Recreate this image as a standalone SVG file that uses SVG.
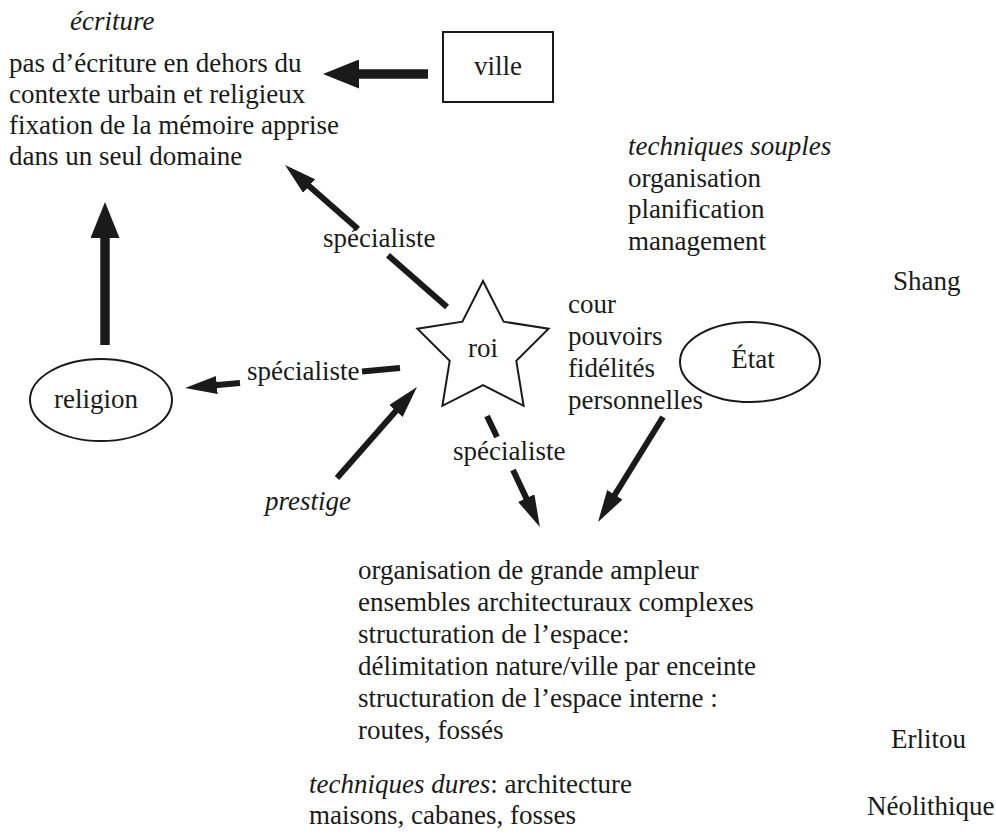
<svg xmlns="http://www.w3.org/2000/svg" width="996" height="838" viewBox="0 0 996 838">
<style>
text{font-family:"Liberation Serif","Times New Roman",serif;font-size:27px;fill:#1a1a1a}
.i{font-style:italic}
.c{text-anchor:middle}
.shape{fill:none;stroke:#1a1a1a;stroke-width:2}
.thick{stroke:#1a1a1a;stroke-width:9.5;fill:none}
.thin{stroke:#1a1a1a;stroke-width:6;fill:none}
</style>
<defs>
<marker id="hL" markerUnits="userSpaceOnUse" markerWidth="36" markerHeight="29" viewBox="0 0 36 29" refX="2" refY="14.5" orient="auto"><path d="M0,0 L36,14.5 L0,29 z" fill="#1a1a1a"/></marker>
<marker id="hS" markerUnits="userSpaceOnUse" markerWidth="32" markerHeight="18" viewBox="0 0 32 18" refX="2" refY="9" orient="auto"><path d="M0,0 L32,9 L0,18 z" fill="#1a1a1a"/></marker>
</defs>
<g id="ecriture">
<text class="i" x="70" y="30">écriture</text>
<text x="9" y="72">pas d’écriture en dehors du</text>
<text x="9" y="103">contexte urbain et religieux</text>
<text x="9" y="134">fixation de la mémoire apprise</text>
<text x="9" y="165">dans un seul domaine</text>
</g>
<g id="ville">
<rect class="shape" x="443" y="32" width="110" height="70"/>
<text class="c" x="498" y="75">ville</text>
</g>
<g id="techniques-souples">
<text class="i" x="628" y="155">techniques souples</text>
<text x="628" y="186.5">organisation</text>
<text x="628" y="218">planification</text>
<text x="628" y="249.5">management</text>
</g>
<g id="shang"><text x="893" y="290">Shang</text></g>
<g id="roi">
<polygon class="shape" points="483,281 503.6,321.7 548.6,328.7 516.3,360.8 523.6,405.8 483,385 442.4,405.8 449.7,360.8 417.4,328.7 462.4,321.7"/>
<text class="c" x="483" y="357">roi</text>
</g>
<g id="cour">
<text x="568" y="313">cour</text>
<text x="568" y="345">pouvoirs</text>
<text x="568" y="377">fidélités</text>
<text x="568" y="409">personnelles</text>
</g>
<g id="etat">
<ellipse class="shape" cx="750" cy="362" rx="70" ry="40"/>
<text class="c" x="753" y="368">État</text>
</g>
<g id="religion">
<ellipse class="shape" cx="101" cy="400" rx="71" ry="41"/>
<text class="c" x="96" y="408">religion</text>
</g>
<g id="prestige"><text class="i" x="265" y="510">prestige</text></g>
<g id="espace">
<text x="358" y="579">organisation de grande ampleur</text>
<text x="358" y="611">ensembles architecturaux complexes</text>
<text x="358" y="643">structuration de l’espace:</text>
<text x="358" y="675">délimitation nature/ville par enceinte</text>
<text x="358" y="707">structuration de l’espace interne :</text>
<text x="358" y="739">routes, fossés</text>
</g>
<g id="erlitou"><text x="891" y="748">Erlitou</text></g>
<g id="techniques-dures">
<text x="309" y="793"><tspan class="i">techniques dures</tspan>: architecture</text>
<text x="309" y="824">maisons, cabanes, fosses</text>
</g>
<g id="neolithique"><text x="867" y="815">Néolithique</text></g>
<g id="connectors">
<line class="thick" x1="428" y1="74" x2="357" y2="74" marker-end="url(#hL)"/>
<line class="thick" x1="105" y1="345" x2="105" y2="236" stroke-width="10" marker-end="url(#hL)"/>
<line class="thin" x1="447" y1="307" x2="388" y2="255.3"/>
<line class="thin" x1="358" y1="229" x2="307.6" y2="184.8" marker-end="url(#hS)"/>
<text x="323" y="247">spécialiste</text>
<line class="thin" x1="400" y1="368" x2="362" y2="371.5"/>
<line class="thin" x1="240" y1="382.9" x2="214.9" y2="385.2" marker-end="url(#hS)"/>
<text x="247" y="380">spécialiste</text>
<line class="thin" x1="337" y1="478" x2="397.2" y2="409.5" marker-end="url(#hS)"/>
<line class="thin" x1="487" y1="416" x2="497" y2="437"/>
<line class="thin" x1="513" y1="470" x2="527.1" y2="499.9" marker-end="url(#hS)"/>
<text x="453" y="460">spécialiste</text>
<line class="thin" x1="663" y1="417" x2="613.8" y2="496.5" marker-end="url(#hS)"/>
</g>
</svg>
